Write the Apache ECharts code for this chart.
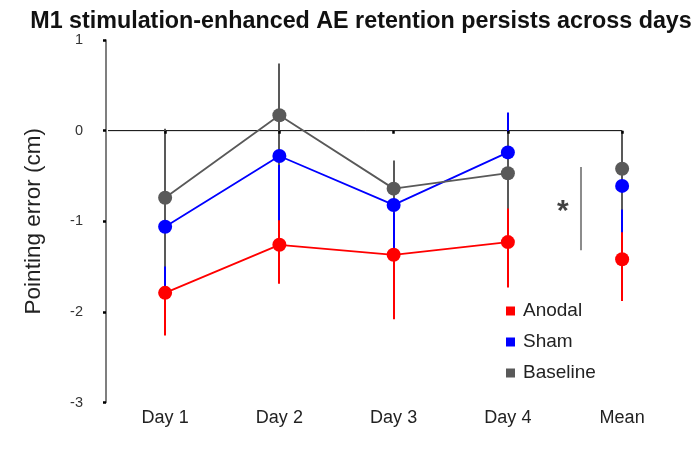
<!DOCTYPE html>
<html><head><meta charset="utf-8">
<script src="https://cdn.jsdelivr.net/npm/echarts@6/dist/echarts.min.js"></script>
<style>html,body{margin:0;padding:0;background:#fff}#c{width:699px;height:449px}</style>
</head><body><div id="c"></div>
<script>
const categories = ['Day 1', 'Day 2', 'Day 3', 'Day 4', 'Mean'];
const yTicks = [-3, -2, -1, 0, 1];

const anodalMean = [-1.79, -1.26, -1.37, -1.23, -1.42];
const anodalLow  = [-2.26, -1.69, -2.08, -1.73, -1.88];
const anodalHigh = [-1.32, -0.83, -0.66, -0.74, -0.96];

const shamMean = [-1.06, -0.28, -0.82, -0.24, -0.61];
const shamLow  = [-1.81, -0.99, -1.33, -0.68, -1.12];
const shamHigh = [-0.31, 0.43, -0.34, 0.20, -0.10];

const baselineMean = [-0.74, 0.17, -0.64, -0.47, -0.42];
const baselineLow  = [-1.50, -0.38, -0.90, -0.86, -0.87];
const baselineHigh = [0.02, 0.74, -0.33, -0.02, 0.00];

// significance bracket (between Day 4 and Mean) and star
const sigBracketX = 3.64;
const sigBracketY = [-0.40, -1.32];
const sigStar = [3.48, -0.89];
const zeroLine = [[-0.5, 0], [4, 0]];

const COLORS = {Anodal: '#ff0000', Sham: '#0000ff', Baseline: '#595959'};

const chart = echarts.init(document.getElementById('c'), null, {renderer: 'canvas'});

function lineSeries(name, mean, z) {
  return {
    name, type: 'line', xAxisIndex: 0, yAxisIndex: 0, z,
    data: mean.slice(0, 4),
    symbol: 'circle', symbolSize: 14, showSymbol: true,
    lineStyle: {color: COLORS[name], width: 1.8},
    itemStyle: {color: COLORS[name], opacity: 1},
    animation: false, silent: true
  };
}
function meanDot(name, mean, z) {
  return {
    name, type: 'scatter', xAxisIndex: 0, yAxisIndex: 0, z,
    data: [[4, mean[4]]], symbol: 'circle', symbolSize: 14,
    itemStyle: {color: COLORS[name], opacity: 1}, animation: false, silent: true
  };
}
function errSeries(name, low, high, z) {
  const color = COLORS[name];
  return {
    name, type: 'custom', xAxisIndex: 0, yAxisIndex: 0, z, silent: true,
    itemStyle: {color, opacity: 1},
    data: low.map((l, i) => [i, l, high[i]]),
    encode: {x: 0, y: [1, 2]},
    renderItem(params, api) {
      const p1 = api.coord([api.value(0), api.value(1)]);
      const p2 = api.coord([api.value(0), api.value(2)]);
      const x = Math.round(p1[0]) - 1;
      return {type: 'rect',
        shape: {x: x, y: Math.min(p1[1], p2[1]), width: 2, height: Math.abs(p1[1] - p2[1])},
        style: {fill: color, opacity: 1}};
    },
    animation: false
  };
}

const FONT = 'Liberation Sans';
const option = {
  animation: false,
  color: [COLORS.Anodal, COLORS.Sham, COLORS.Baseline],
  title: {
    text: 'M1 stimulation-enhanced AE retention persists across days',
    left: 356, top: 5, textAlign: 'center',
    textStyle: {fontFamily: FONT, fontWeight: 'bold', fontSize: 23.3, color: '#111'}
  },
  legend: {
    data: ['Anodal', 'Sham', 'Baseline'],
    orient: 'vertical', left: 506, top: 301, padding: 0,
    icon: 'rect', itemWidth: 9, itemHeight: 9, itemGap: 11,
    textStyle: {fontFamily: FONT, fontSize: 19, color: '#222', lineHeight: 20, padding: [0, 0, 0, 3]},
    selectedMode: false
  },
  grid: {left: 108, right: 19.75, top: 40, bottom: 46.5, containLabel: false},
  xAxis: [
    {type: 'category', data: categories, position: 'bottom', boundaryGap: true,
      axisLine: {show: false, onZero: false}, axisTick: {show: false},
      axisLabel: {fontFamily: FONT, fontSize: 18, color: '#222', margin: 7, interval: 0},
      splitLine: {show: false}},
    {type: 'category', data: categories, position: 'top', boundaryGap: true, z: 30,
      axisLine: {show: false, onZero: true},
      axisTick: {show: true, alignWithLabel: true, inside: true, length: 3, interval: 0,
        lineStyle: {color: '#000', width: 2.5}},
      axisLabel: {show: false}, splitLine: {show: false}},
    {type: 'value', min: -0.5, max: 4.5, show: false, position: 'bottom'}
  ],
  yAxis: {
    type: 'value', min: yTicks[0], max: yTicks[yTicks.length - 1], interval: 1, offset: 2,
    name: 'Pointing error (cm)', nameLocation: 'middle', nameGap: 61,
    nameTextStyle: {fontFamily: FONT, fontSize: 22.5, color: '#222'},
    axisLine: {show: true, onZero: false, lineStyle: {color: '#555', width: 1.5}},
    axisTick: {show: true, length: 3, lineStyle: {color: '#000', width: 2.5}},
    axisLabel: {fontFamily: FONT, fontSize: 14.5, color: '#333', margin: 23},
    splitLine: {show: false}
  },
  series: [
    lineSeries('Anodal', anodalMean, 10),
    lineSeries('Sham', shamMean, 11),
    lineSeries('Baseline', baselineMean, 12),
    meanDot('Anodal', anodalMean, 10),
    meanDot('Sham', shamMean, 11),
    meanDot('Baseline', baselineMean, 12),
    errSeries('Anodal', anodalLow, anodalHigh, 3),
    errSeries('Sham', shamLow, shamHigh, 4),
    errSeries('Baseline', baselineLow, baselineHigh, 5),
    {type: 'line', xAxisIndex: 2, yAxisIndex: 0, data: zeroLine, symbol: 'none', z: 2,
      lineStyle: {color: '#000', width: 1}, silent: true, animation: false},
    {type: 'line', xAxisIndex: 2, yAxisIndex: 0, z: 2,
      data: [[sigBracketX, sigBracketY[0]], [sigBracketX, sigBracketY[1]]], symbol: 'none',
      lineStyle: {color: '#8c8c8c', width: 2}, silent: true, animation: false},
    {type: 'scatter', xAxisIndex: 2, yAxisIndex: 0, z: 2, data: [sigStar], symbolSize: 0,
      label: {show: true, position: 'inside', formatter: '*', fontFamily: FONT,
        fontWeight: 'bold', fontSize: 30, color: '#111'}, silent: true, animation: false}
  ]
};
chart.setOption(option);
</script>
</body></html>
